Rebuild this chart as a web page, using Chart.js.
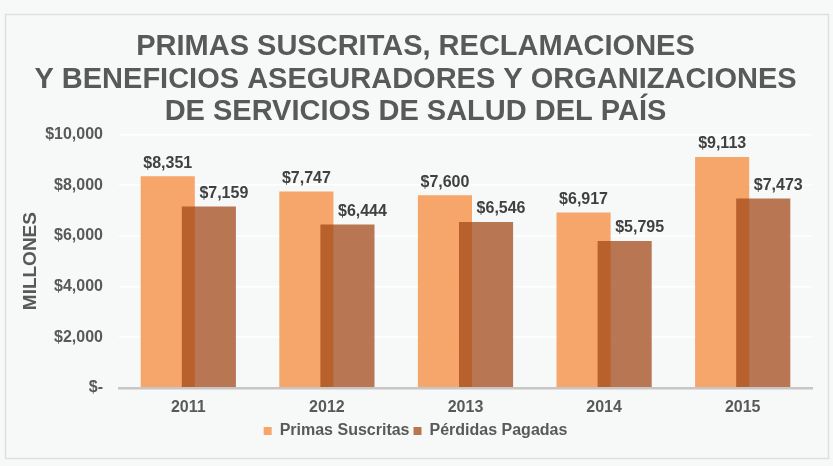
<!DOCTYPE html>
<html>
<head>
<meta charset="utf-8">
<script src="https://cdn.jsdelivr.net/npm/chart.js@4"></script>
<style>
  html, body { margin: 0; padding: 0; background: #f7f9f9; }
  #wrap { position: absolute; left: 0; top: 0; width: 833px; height: 466px; }
</style>
</head>
<body>
<div id="wrap"><canvas id="c" width="833" height="466"></canvas></div>
<script>
const titleLines = [
  'PRIMAS SUSCRITAS, RECLAMACIONES',
  'Y BENEFICIOS ASEGURADORES Y ORGANIZACIONES',
  'DE SERVICIOS DE SALUD DEL PAÍS'
];
const years = ['2011', '2012', '2013', '2014', '2015'];
const primasSuscritas = [8351, 7747, 7600, 6917, 9113];
const perdidasPagadas = [7159, 6444, 6546, 5795, 7473];
const seriesNames = ['Primas Suscritas', 'Pérdidas Pagadas'];
const yAxisTitle = 'MILLONES';
const yTicks = [0, 2000, 4000, 6000, 8000, 10000];

const FONT = '"Liberation Sans", Arial, sans-serif';
const fmt = v => v === 0 ? '$-' : '$' + v.toLocaleString('en-US');

const framePlugin = {
  id: 'frame',
  beforeDraw(chart) {
    const ctx = chart.ctx;
    ctx.save();
    ctx.fillStyle = '#f7f9f9';
    ctx.fillRect(0, 0, chart.width, chart.height);
    ctx.strokeStyle = '#dedfdf';
    ctx.lineWidth = 1.5;
    ctx.strokeRect(5.5, 14.5, 823, 444);
    ctx.restore();
  }
};

// draw the second series on top of the first (it overlaps the first)
const layerPlugin = {
  id: 'layer',
  beforeDatasetDraw(chart, args) {
    if (args.index === 1) return false;
  },
  afterDatasetsDraw(chart) {
    const meta = chart.getDatasetMeta(1);
    if (!meta.hidden) meta.controller.draw();
  }
};

const labelPlugin = {
  id: 'valueLabels',
  afterDatasetsDraw(chart, args, opts) {
    const ctx = chart.ctx;
    ctx.save();
    ctx.font = 'bold 16px ' + FONT;
    ctx.fillStyle = '#404040';
    ctx.textAlign = 'center';
    ctx.textBaseline = 'bottom';
    chart.data.datasets.forEach((ds, di) => {
      const meta = chart.getDatasetMeta(di);
      const dx = opts.offsets[di] || 0;
      meta.data.forEach((el, i) => {
        ctx.fillText(fmt(ds.data[i]), el.x + dx, el.y - 5);
      });
    });
    ctx.restore();
  }
};

new Chart(document.getElementById('c'), {
  type: 'bar',
  data: {
    labels: years,
    datasets: [
      {
        label: seriesNames[0],
        data: primasSuscritas,
        backgroundColor: 'rgba(245,138,58,0.75)'
      },
      {
        label: seriesNames[1],
        data: perdidasPagadas,
        backgroundColor: 'rgba(163,74,26,0.75)'
      }
    ]
  },
  options: {
    responsive: false,
    animation: false,
    devicePixelRatio: 1,
    categoryPercentage: 0.593,
    barPercentage: 1.317,
    layout: { padding: { left: 19, right: 21, top: 0, bottom: 17 } },
    plugins: {
      title: {
        display: true,
        text: titleLines,
        color: '#595959',
        font: { family: FONT, size: 29, weight: 'bold', lineHeight: 1.12 },
        padding: { top: 31, bottom: 6 }
      },
      legend: {
        position: 'bottom',
        labels: {
          color: '#595959',
          font: { family: FONT, size: 16, weight: 'bold' },
          boxWidth: 8,
          boxHeight: 8,
          padding: 4
        }
      },
      tooltip: { enabled: false },
      valueLabels: { offsets: [0, 15] }
    },
    scales: {
      x: {
        grid: { display: false },
        border: { display: true, color: '#c9c5c5', width: 2.5 },
        ticks: {
          color: '#595959',
          font: { family: FONT, size: 16, weight: 'bold' },
          padding: 2
        }
      },
      y: {
        min: 0,
        max: 10000,
        afterBuildTicks: s => { s.ticks = yTicks.map(v => ({ value: v })); },
        afterFit: s => { s.width = 100; },
        grid: { color: '#ffffff', lineWidth: 1.5, drawTicks: false },
        border: { display: false },
        ticks: {
          color: '#595959',
          font: { family: FONT, size: 16, weight: 'bold' },
          padding: 16,
          callback: v => fmt(v)
        },
        title: {
          display: true,
          text: yAxisTitle,
          color: '#595959',
          font: { family: FONT, size: 19, weight: 'bold' },
          padding: { top: 0, bottom: 2 }
        }
      }
    }
  },
  plugins: [framePlugin, layerPlugin, labelPlugin]
});
</script>
</body>
</html>
